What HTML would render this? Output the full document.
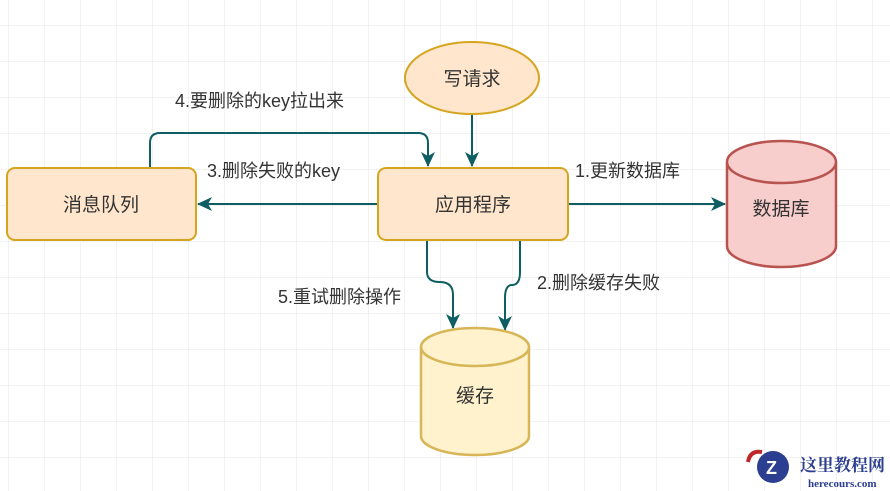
<!DOCTYPE html>
<html><head><meta charset="utf-8"><style>
html,body{margin:0;padding:0;background:#fff;}
svg{display:block;}
text{font-family:"Liberation Sans","Noto Sans CJK SC",sans-serif;fill:#333;}
</style></head><body>
<svg width="890" height="491" viewBox="0 0 890 491" xmlns="http://www.w3.org/2000/svg">
<defs>
<pattern id="g" x="8" y="25" width="36" height="36" patternUnits="userSpaceOnUse">
<path d="M0 0H36M0 0V36" stroke="#e6e6e6" stroke-width="1" fill="none"/>
</pattern>
<marker id="a" markerWidth="16" markerHeight="16" refX="14" refY="7" orient="auto" markerUnits="userSpaceOnUse">
<path d="M0 0 L15 7 L0 14 L4 7 Z" fill="#0e5e63"/>
</marker>
</defs>
<rect width="890" height="491" fill="url(#g)"/>
<g stroke="#0e5e63" stroke-width="2" fill="none">
<path d="M472 114 V166" marker-end="url(#a)"/>
<path d="M150 168 V143 Q150 133 160 133 H418 Q428 133 428 143 V166" marker-end="url(#a)"/>
<path d="M378 204 H198" marker-end="url(#a)"/>
<path d="M568 204 H725" marker-end="url(#a)"/>
<path d="M427 240 V272 Q427 282 440 282 Q453 282 453 295 V328" marker-end="url(#a)"/>
<path d="M520 240 V272 Q520 285 512 285 Q505 285 505 298 V330" marker-end="url(#a)"/>
</g>
<ellipse cx="472" cy="78" rx="67" ry="36" fill="#ffe6cc" stroke="#d6a520" stroke-width="2"/>
<text x="472" y="85" font-size="19" text-anchor="middle">写请求</text>
<rect x="378" y="168" width="190" height="72" rx="8" fill="#ffe6cc" stroke="#d6a520" stroke-width="2"/>
<text x="473" y="211" font-size="19" text-anchor="middle">应用程序</text>
<rect x="7" y="168" width="189" height="72" rx="8" fill="#ffe6cc" stroke="#d6a520" stroke-width="2"/>
<text x="101" y="211" font-size="19" text-anchor="middle">消息队列</text>
<path d="M727 162 V246 A54.5 21 0 0 0 836 246 V162" fill="#f8cecc" stroke="#b85450" stroke-width="2.5"/>
<ellipse cx="781.5" cy="162" rx="54.5" ry="21" fill="#f8cecc" stroke="#b85450" stroke-width="2.5"/>
<text x="781" y="215" font-size="19" text-anchor="middle">数据库</text>
<path d="M421 347 V436 A54 19 0 0 0 529 436 V347" fill="#fff2cc" stroke="#d6b656" stroke-width="2.5"/>
<ellipse cx="475" cy="347" rx="54" ry="19" fill="#fff2cc" stroke="#d6b656" stroke-width="2.5"/>
<text x="475" y="402" font-size="19" text-anchor="middle">缓存</text>
<g font-size="18">
<text x="175" y="107">4.要删除的key拉出来</text>
<text x="207" y="177">3.删除失败的key</text>
<text x="575" y="177">1.更新数据库</text>
<text x="278" y="303">5.重试删除操作</text>
<text x="537" y="289">2.删除缓存失败</text>
</g>
<circle cx="773" cy="467" r="16" fill="#2b3e8f"/>
<path d="M748 462 Q750 450 762 452" stroke="#c0272d" stroke-width="4" fill="none"/>
<text x="766" y="474" font-size="18" font-weight="bold" style="fill:#fff">Z</text>
<text x="800" y="471" font-size="17" font-weight="bold" style="fill:#2b3e8f;font-family:'Noto Serif CJK SC',serif">这里教程网</text>
<text x="808" y="487" font-size="11" font-weight="bold" style="fill:#2b3e8f;font-family:'Liberation Serif',serif">herecours.com</text>
</svg>
</body></html>
